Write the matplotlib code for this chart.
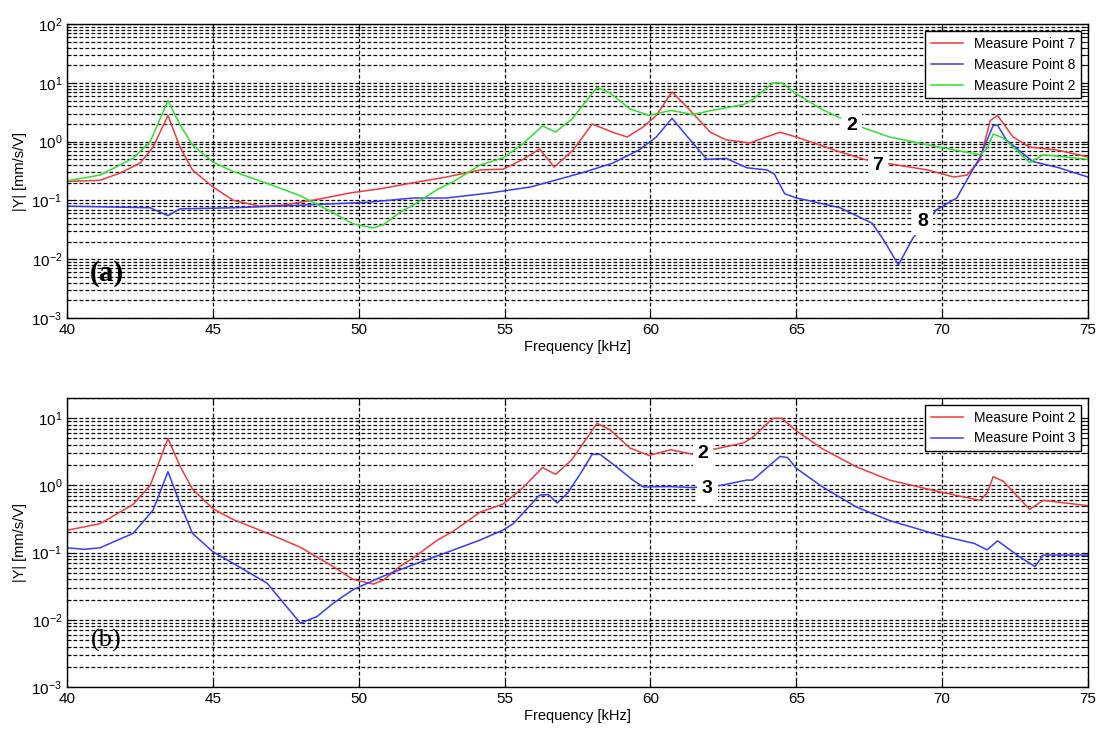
import numpy as np
import matplotlib
matplotlib.use("Agg")
import matplotlib.pyplot as plt
from matplotlib.ticker import LogLocator, MultipleLocator, NullFormatter

plt.rcParams['font.family'] = ['Liberation Sans', 'DejaVu Sans']
plt.rcParams['mathtext.fontset'] = 'custom'
plt.rcParams['mathtext.rm'] = 'Liberation Sans'
plt.rcParams['mathtext.it'] = 'Liberation Sans'

# Measure Point 2 (shown in both panels)
f_mp2 = [40.0, 41.13, 42.26, 42.85, 43.46, 43.87, 44.3, 45.0, 45.7, 46.86,
         48.0, 49.12, 49.8, 50.5, 50.85, 51.4, 51.86, 52.7, 53.25, 54.16,
         54.95, 55.6, 56.3, 56.75, 57.3, 58.17, 58.6, 59.3, 59.95, 60.7,
         61.46, 62.1, 63.2, 63.5, 64.2, 64.5, 65.0, 65.9, 67.05, 68.2,
         69.93, 71.3, 71.54, 71.75, 72.1, 73.0, 73.46, 75.0]
y_mp2 = [0.215, 0.27, 0.52, 1.0, 5.0, 1.95, 0.88, 0.45, 0.31, 0.195,
         0.12, 0.062, 0.04, 0.034, 0.039, 0.062, 0.083, 0.154, 0.21, 0.4,
         0.53, 0.9, 1.85, 1.46, 2.4, 8.4, 6.8, 3.6, 2.8, 3.4,
         2.9, 3.4, 4.3, 5.2, 10.0, 10.0, 6.5, 3.5, 1.9, 1.2,
         0.8, 0.6, 0.77, 1.35, 1.15, 0.44, 0.6, 0.5]

# Measure Point 7 (panel a)
f_mp7 = [40.0, 41.13, 41.8, 42.5, 42.95, 43.46, 43.87, 44.3, 45.0, 45.7,
         46.6, 47.4, 48.57, 49.7, 50.8, 51.86, 53.0, 54.16, 54.95, 55.6,
         56.2, 56.7, 57.35, 58.0, 58.7, 59.2, 59.75, 60.2, 60.74, 61.25,
         62.05, 62.6, 63.4, 64.44, 65.0, 66.5, 67.4, 68.2, 69.5, 70.4,
         70.85, 71.3, 71.65, 71.9, 72.43, 73.0, 73.94, 75.0]
y_mp7 = [0.21, 0.22, 0.29, 0.43, 0.81, 2.8, 0.81, 0.33, 0.17, 0.1,
         0.08, 0.083, 0.104, 0.134, 0.16, 0.2, 0.25, 0.33, 0.34, 0.49,
         0.75, 0.37, 0.72, 2.0, 1.45, 1.2, 1.78, 2.8, 7.0, 3.9,
         1.45, 1.07, 0.95, 1.45, 1.2, 0.67, 0.49, 0.42, 0.33, 0.25,
         0.27, 0.49, 2.3, 2.8, 1.2, 0.81, 0.72, 0.55]

# Measure Point 8 (panel a)
f_mp8 = [40.0, 42.85, 43.46, 43.87, 45.7, 48.0, 50.3, 51.86, 53.0, 54.5,
         55.9, 57.6, 58.7, 59.6, 60.2, 60.74, 61.36, 61.94, 62.6, 63.3,
         64.0, 64.25, 64.6, 65.0, 65.4, 66.5, 67.6, 68.0, 68.5, 69.0,
         69.8, 70.5, 71.3, 71.75, 71.9, 72.2, 73.1, 74.0, 75.0]
y_mp8 = [0.08, 0.075, 0.055, 0.072, 0.075, 0.083, 0.093, 0.11, 0.11, 0.134,
         0.17, 0.29, 0.43, 0.72, 1.2, 2.5, 1.07, 0.5, 0.52, 0.36,
         0.33, 0.28, 0.13, 0.11, 0.1, 0.075, 0.041, 0.021, 0.008, 0.023,
         0.069, 0.11, 0.55, 1.9, 1.9, 1.07, 0.46, 0.36, 0.25]

# Measure Point 3 (panel b)
f_mp3 = [40.0, 40.6, 41.13, 42.26, 42.95, 43.46, 43.87, 44.3, 45.0, 45.7,
         46.86, 47.43, 48.0, 48.57, 49.12, 49.8, 50.8, 51.86, 53.0, 54.16,
         54.95, 55.3, 56.2, 56.5, 56.8, 57.15, 57.6, 58.0, 58.27, 58.7,
         59.4, 59.75, 60.67, 61.46, 62.4, 63.3, 63.5, 64.44, 64.7, 65.0,
         65.9, 67.05, 68.2, 69.93, 71.1, 71.54, 71.9, 72.65, 73.18, 73.46, 75.0]
y_mp3 = [0.118, 0.112, 0.118, 0.193, 0.43, 1.6, 0.54, 0.193, 0.103, 0.069,
         0.035, 0.0176, 0.0089, 0.0112, 0.0176, 0.028, 0.044, 0.066, 0.1, 0.154,
         0.217, 0.27, 0.72, 0.73, 0.55, 0.76, 1.5, 2.9, 2.9, 2.1,
         1.2, 0.95, 0.96, 0.93, 1.0, 1.2, 1.2, 2.7, 2.6, 1.8,
         0.95, 0.48, 0.3, 0.18, 0.137, 0.11, 0.15, 0.087, 0.062, 0.092, 0.092]

RED = '#ee3b3b'
BLUE = '#3b3bee'
GREEN = '#2ee02e'
GRID_LS = (0, (3, 1.8))


def style_axes(ax, ytop):
    ax.set_yscale('log')
    ax.set_xlim(40, 75)
    ax.set_ylim(1e-3, ytop)
    ax.xaxis.set_major_locator(MultipleLocator(5))
    ax.yaxis.set_major_locator(LogLocator(base=10, numticks=10))
    ax.yaxis.set_minor_locator(LogLocator(base=10, subs=np.arange(2, 10), numticks=10))
    ax.yaxis.set_minor_formatter(NullFormatter())
    ax.grid(True, which='major', axis='both', color='k', linestyle=GRID_LS, lw=0.9)
    ax.grid(True, which='minor', axis='y', color='k', linestyle=GRID_LS, lw=0.9)
    ax.tick_params(which='major', direction='in', top=True, right=True,
                   labelsize=11, length=5)
    ax.tick_params(which='minor', direction='in', right=True, length=3)
    ax.set_xlabel('Frequency [kHz]', fontsize=10.5, labelpad=2)
    ax.set_ylabel('|Y| [mm/s/V]', fontsize=10.5, labelpad=3)
    for s in ax.spines.values():
        s.set_linewidth(1.0)


def tag(ax, x, y, s):
    ax.text(x, y, s, fontsize=14, fontweight='bold', ha='center', va='center',
            zorder=5, bbox=dict(boxstyle='square,pad=0.25', fc='white', ec='none'))


fig = plt.figure(figsize=(11.01, 7.31), dpi=100)
ax1 = fig.add_axes([0.0609, 0.565, 0.9273, 0.402])
ax2 = fig.add_axes([0.0609, 0.0602, 0.9273, 0.3953])

# panel (a)
ax1.plot(f_mp7, y_mp7, color=RED, lw=1.1, label='Measure Point 7')
ax1.plot(f_mp8, y_mp8, color=BLUE, lw=1.1, label='Measure Point 8')
ax1.plot(f_mp2, y_mp2, color=GREEN, lw=1.1, label='Measure Point 2')
style_axes(ax1, 1e2)
tag(ax1, 66.9, 1.9, '2')
tag(ax1, 67.8, 0.4, '7')
tag(ax1, 69.35, 0.043, '8')
ax1.text(41.35, 0.0058, '(a)', family=['Liberation Serif'], fontweight='bold',
         fontsize=21, ha='center', va='center')
leg1 = ax1.legend(loc='upper right', fontsize=10, fancybox=False,
                  edgecolor='k', framealpha=1, handlelength=2.3)
leg1.get_frame().set_linewidth(1.0)

# panel (b)
ax2.plot(f_mp2, y_mp2, color=RED, lw=1.1, label='Measure Point 2')
ax2.plot(f_mp3, y_mp3, color=BLUE, lw=1.1, label='Measure Point 3')
style_axes(ax2, 20)
tag(ax2, 61.8, 3.0, '2')
tag(ax2, 61.95, 0.91, '3')
ax2.text(41.35, 0.005, '(b)', family=['Liberation Serif'],
         fontsize=19, ha='center', va='center')
leg2 = ax2.legend(loc='upper right', fontsize=10, fancybox=False,
                  edgecolor='k', framealpha=1, handlelength=2.3)
leg2.get_frame().set_linewidth(1.0)

fig.savefig('out.png', dpi=100)
